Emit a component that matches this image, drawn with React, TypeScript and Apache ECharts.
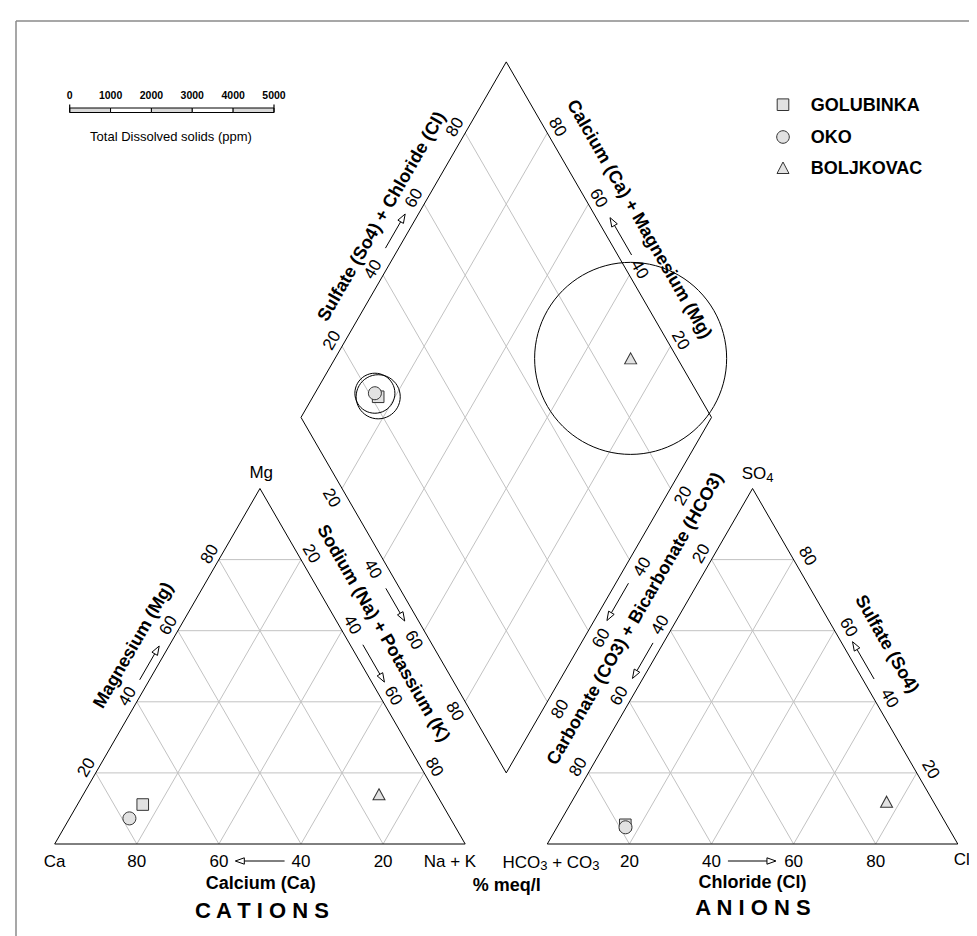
import React, { useEffect, useRef } from 'react';
import * as echarts from 'echarts';

// ---------------- data ----------------
const SAMPLES = ['GOLUBINKA', 'OKO', 'BOLJKOVAC'];
const SYMBOLS = ['rect', 'circle', 'triangle'];
// cations, % meq/l
const CA = [73.0, 78.2, 14.0];
const MG = [11.1, 7.2, 14.0];
const NAK = [15.9, 14.6, 72.0];
// anions, % meq/l
const HCO3 = [78.3, 78.6, 11.4];
const SO4 = [5.4, 4.7, 11.9];
const CL = [16.3, 16.7, 76.7];
// total dissolved solids, ppm
const TDS = [1080, 980, 4700];
const TICKS = [20, 40, 60, 80];
const TDS_TICKS = [0, 1000, 2000, 3000, 4000, 5000];

// ---------------- layout ----------------
type P = [number, number];
const W = 977, H = 936;
const X0 = 46.7, Y0 = 836, L = 410.5; // pixel position of Ca vertex, side length in px
const h = Math.sqrt(3) / 2;
const GAP = 0.2;
const FONT = "'Liberation Sans', Arial, Helvetica, sans-serif";

const add = (a: P, b: P): P => [a[0] + b[0], a[1] + b[1]];
const sub = (a: P, b: P): P => [a[0] - b[0], a[1] - b[1]];
const mul = (a: P, k: number): P => [a[0] * k, a[1] * k];
const px = (p: P, dx: number, dy: number): P => [p[0] + dx / L, p[1] - dy / L];

const CA_V: P = [0, 0], NA_V: P = [1, 0], MG_V: P = [0.5, h];
const HC_V: P = [1 + GAP, 0], CL_V: P = [2 + GAP, 0], SO_V: P = [1.5 + GAP, h];
const DB: P = [1 + GAP / 2, GAP * h];
const DL: P = [0.5 + GAP / 2, (1 + GAP) * h];
const DR: P = [1.5 + GAP / 2, (1 + GAP) * h];
const DT: P = [1 + GAP / 2, (2 + GAP) * h];
const E1: P = [0.5, h], E2: P = [-0.5, h];

const catPt = (i: number): P => {
  const t = CA[i] + MG[i] + NAK[i];
  const mg = MG[i] / t, na = NAK[i] / t;
  return [na + mg / 2, mg * h];
};
const anPt = (i: number): P => {
  const t = HCO3[i] + SO4[i] + CL[i];
  const so = SO4[i] / t, cl = CL[i] / t;
  return [1 + GAP + cl + so / 2, so * h];
};
const diaPt = (i: number): P => {
  const tc = CA[i] + MG[i] + NAK[i];
  const ta = HCO3[i] + SO4[i] + CL[i];
  const C = (CA[i] + MG[i]) / tc;
  const S = (SO4[i] + CL[i]) / ta;
  return add(DB, add(mul(E1, S), mul(E2, C)));
};

// ---------------- segments ----------------
const gridSegs: number[][] = [];
const outlineSegs: number[][] = [];
const seg = (arr: number[][], a: P, b: P) => arr.push([a[0], a[1], b[0], b[1]]);

[0, 1 + GAP].forEach((ox) => {
  const o: P = [ox, 0];
  TICKS.forEach((k) => {
    const f = k / 100;
    seg(gridSegs, add(o, [f / 2, f * h]), add(o, [1 - f / 2, f * h]));
    seg(gridSegs, add(o, [f, 0]), add(o, [f + (1 - f) / 2, (1 - f) * h]));
    seg(gridSegs, add(o, [1 - f, 0]), add(o, [(1 - f) / 2, (1 - f) * h]));
  });
});
TICKS.forEach((k) => {
  const f = k / 100;
  const a = add(DB, mul(E1, f));
  seg(gridSegs, a, add(a, E2));
  const b = add(DB, mul(E2, f));
  seg(gridSegs, b, add(b, E1));
});
seg(outlineSegs, CA_V, NA_V); seg(outlineSegs, NA_V, MG_V); seg(outlineSegs, MG_V, CA_V);
seg(outlineSegs, HC_V, CL_V); seg(outlineSegs, CL_V, SO_V); seg(outlineSegs, SO_V, HC_V);
seg(outlineSegs, DB, DR); seg(outlineSegs, DR, DT); seg(outlineSegs, DT, DL); seg(outlineSegs, DL, DB);

// ---------------- edges: ticks, arrows ----------------
interface Edge { s: P; e: P; n: P; rot: number; tOff: number; tAlong: number; aOff: number; aFrom: number; aTo: number; }
const EDGES: Record<string, Edge> = {
  cL: { s: CA_V, e: MG_V, n: [-h, 0.5], rot: 60, tOff: 11, tAlong: 0, aOff: 8.5, aFrom: 0.45, aTo: 0.545 },
  cR: { s: MG_V, e: NA_V, n: [h, 0.5], rot: -60, tOff: 12, tAlong: 0, aOff: 11, aFrom: 0.455, aTo: 0.56 },
  cB: { s: NA_V, e: CA_V, n: [0, -1], rot: 0, tOff: 17, tAlong: 0, aOff: 17, aFrom: 0.44, aTo: 0.56 },
  aL: { s: SO_V, e: HC_V, n: [-h, 0.5], rot: 60, tOff: 12, tAlong: 0, aOff: 9, aFrom: 0.447, aTo: 0.547 },
  aR: { s: CL_V, e: SO_V, n: [h, 0.5], rot: -60, tOff: 14, tAlong: -4, aOff: 10, aFrom: 0.45, aTo: 0.555 },
  aB: { s: HC_V, e: CL_V, n: [0, -1], rot: 0, tOff: 17, tAlong: 0, aOff: 17, aFrom: 0.44, aTo: 0.557 },
  dUL: { s: DL, e: DT, n: [-h, 0.5], rot: 60, tOff: 12, tAlong: 0, aOff: 11.5, aFrom: 0.46, aTo: 0.556 },
  dUR: { s: DR, e: DT, n: [h, 0.5], rot: -60, tOff: 12, tAlong: 0, aOff: 12, aFrom: 0.44, aTo: 0.545 },
  dLL: { s: DL, e: DB, n: [-h, -0.5], rot: -60, tOff: 13.5, tAlong: 3, aOff: 12, aFrom: 0.464, aTo: 0.556 },
  dLR: { s: DR, e: DB, n: [h, -0.5], rot: 60, tOff: 14.5, tAlong: 0, aOff: 11, aFrom: 0.451, aTo: 0.556 },
};
const onEdge = (ed: Edge, f: number, off: number, along = 0): P => {
  const d = sub(ed.e, ed.s);
  return add(add(ed.s, mul(d, f + along / L)), mul(ed.n, off / L));
};

interface TextItem { p: P; text: string; rot: number; size: number; bold: boolean; rich?: any; }
const texts: TextItem[] = [];
const arrows: number[][] = [];
Object.keys(EDGES).forEach((key) => {
  const ed = EDGES[key];
  TICKS.forEach((k) => {
    texts.push({ p: onEdge(ed, k / 100, ed.tOff, ed.tAlong), text: String(k), rot: ed.rot, size: 17, bold: false });
  });
  const a = onEdge(ed, ed.aFrom, ed.aOff);
  const b = onEdge(ed, ed.aTo, ed.aOff);
  arrows.push([a[0], a[1], b[0], b[1]]);
});

const TITLES: { edge: string; f: number; off: number; text: string }[] = [
  { edge: 'cL', f: 0.515, off: 31.7, text: 'Magnesium (Mg)' },
  { edge: 'cR', f: 0.456, off: 35, text: 'Sodium (Na) + Potassium (K)' },
  { edge: 'cB', f: 0.498, off: 39, text: 'Calcium (Ca)' },
  { edge: 'aR', f: 0.508, off: 39, text: 'Sulfate (So4)' },
  { edge: 'aB', f: 0.5, off: 38, text: 'Chloride (Cl)' },
  { edge: 'dUL', f: 0.522, off: 31, text: 'Sulfate (So4) + Chloride (Cl)' },
  { edge: 'dUR', f: 0.506, off: 37, text: 'Calcium (Ca) + Magnesium (Mg)' },
  { edge: 'dLR', f: 0.518, off: 34, text: 'Carbonate (CO3) + Bicarbonate (HCO3)' },
];
TITLES.forEach((t) => {
  const ed = EDGES[t.edge];
  texts.push({ p: onEdge(ed, t.f, t.off), text: t.text, rot: ed.rot, size: 18, bold: true });
});

const subRich = {
  n: { fontSize: 17, fontFamily: FONT, lineHeight: 20, fill: '#000' },
  s: { fontSize: 13, fontFamily: FONT, lineHeight: 10, verticalAlign: 'bottom', fill: '#000' },
};
texts.push({ p: px(CA_V, 0, 17), text: 'Ca', rot: 0, size: 17, bold: false });
texts.push({ p: px(NA_V, -15.3, 17), text: 'Na + K', rot: 0, size: 17, bold: false });
texts.push({ p: px(MG_V, 1.3, -15.5), text: 'Mg', rot: 0, size: 17, bold: false });
texts.push({ p: px(HC_V, 3.7, 18), text: '{n|HCO}{s|3}{n| + CO}{s|3}', rot: 0, size: 17, bold: false, rich: subRich });
texts.push({ p: px(CL_V, 4, 15), text: 'Cl', rot: 0, size: 17, bold: false });
texts.push({ p: px(SO_V, 5, -14.5), text: '{n|SO}{s|4}', rot: 0, size: 17, bold: false, rich: subRich });
texts.push({ p: px(DB, 0.5, 112), text: '% meq/l', rot: 0, size: 18, bold: true });
texts.push({ p: px([0.5, 0], 2, 66), text: 'C A T I O N S', rot: 0, size: 22, bold: true });
texts.push({ p: px([1.5 + GAP, 0], 0.4, 63), text: 'A N I O N S', rot: 0, size: 22, bold: true });

// ---------------- scale bar / legend (px) ----------------
const BAR_X = 61.7, BAR_Y = 100, BAR_W = 204.3, BAR_H = 4.5;
const TDS_MAX = TDS_TICKS[TDS_TICKS.length - 1];
const LEG_X = 775, LEG_TX = 802.7, LEG_Y = [96.7, 129, 160];

export default function App() {
  const ref = useRef<HTMLDivElement>(null);
  useEffect(() => {
    if (!ref.current) return;
    const chart = echarts.init(ref.current, undefined, { renderer: 'svg' });

    const graphic: any[] = [];
    graphic.push({ type: 'line', silent: true, shape: { x1: 8, y1: 13, x2: W, y2: 13 }, style: { stroke: '#8a8a8a', lineWidth: 1.5 } });
    graphic.push({ type: 'line', silent: true, shape: { x1: 8, y1: 13, x2: 8, y2: H }, style: { stroke: '#8a8a8a', lineWidth: 1.5 } });
    TDS_TICKS.slice(0, -1).forEach((t, i) => {
      const step = TDS_TICKS[i + 1] - t;
      graphic.push({
        type: 'rect', silent: true,
        shape: { x: BAR_X + (BAR_W * t) / TDS_MAX, y: BAR_Y, width: (BAR_W * step) / TDS_MAX, height: BAR_H },
        style: { fill: i % 2 === 0 ? '#d9d9d9' : '#ffffff', stroke: '#000', lineWidth: 1 },
      });
    });
    [0, BAR_W].forEach((dx) => {
      graphic.push({ type: 'line', silent: true, shape: { x1: BAR_X + dx, y1: BAR_Y - 3.5, x2: BAR_X + dx, y2: BAR_Y + BAR_H }, style: { stroke: '#000', lineWidth: 1.2 } });
    });
    TDS_TICKS.forEach((t) => {
      graphic.push({
        type: 'text', silent: true,
        style: { text: String(t), x: BAR_X + (BAR_W * t) / TDS_MAX, y: 87.3, fontSize: 10.5, fontWeight: 'bold', fontFamily: FONT, fill: '#000', align: 'center', verticalAlign: 'middle' },
      });
    });
    graphic.push({
      type: 'text', silent: true,
      style: { text: 'Total Dissolved solids (ppm)', x: 163, y: 128.3, fontSize: 13, fontFamily: FONT, fill: '#000', align: 'center', verticalAlign: 'middle' },
    });
    // legend
    const legStyle = { fill: '#e2e2e2', stroke: '#333', lineWidth: 1 };
    graphic.push({ type: 'rect', silent: true, shape: { x: LEG_X - 5.8, y: LEG_Y[0] - 5.8, width: 11.6, height: 11.6 }, style: legStyle });
    graphic.push({ type: 'circle', silent: true, shape: { cx: LEG_X, cy: LEG_Y[1], r: 6.3 }, style: legStyle });
    graphic.push({ type: 'polygon', silent: true, shape: { points: [[LEG_X, LEG_Y[2] - 6], [LEG_X + 6, LEG_Y[2] + 5.5], [LEG_X - 6, LEG_Y[2] + 5.5]] }, style: legStyle });
    SAMPLES.forEach((s, i) => {
      graphic.push({
        type: 'text', silent: true,
        style: { text: s, x: LEG_TX, y: LEG_Y[i], fontSize: 18, fontWeight: 'bold', fontFamily: FONT, fill: '#000', align: 'left', verticalAlign: 'middle' },
      });
    });

    const segRender = (color: string, width: number) => (params: any, api: any) => {
      const a = api.coord([api.value(0), api.value(1)]);
      const b = api.coord([api.value(2), api.value(3)]);
      return { type: 'line', shape: { x1: a[0], y1: a[1], x2: b[0], y2: b[1] }, style: { stroke: color, lineWidth: width } };
    };

    const series: any[] = [
      { type: 'custom', name: 'grid', silent: true, z: 1, data: gridSegs, renderItem: segRender('#c2c2c2', 1) },
      { type: 'custom', name: 'outline', silent: true, z: 2, data: outlineSegs, renderItem: segRender('#000', 1) },
      {
        type: 'custom', name: 'tds', silent: true, z: 3,
        data: SAMPLES.map((_, i) => [...diaPt(i), TDS[i]]),
        renderItem: (params: any, api: any) => {
          const c = api.coord([api.value(0), api.value(1)]);
          const r = (api.value(2) / TDS_MAX) * BAR_W / 2;
          return { type: 'circle', shape: { cx: c[0], cy: c[1], r }, style: { fill: 'none', stroke: '#000', lineWidth: 1 } };
        },
      },
      {
        type: 'custom', name: 'texts', silent: true, z: 4,
        data: texts.map((t) => [t.p[0], t.p[1]]),
        renderItem: (params: any, api: any) => {
          const t = texts[params.dataIndex];
          const c = api.coord([api.value(0), api.value(1)]);
          const style: any = {
            text: t.text, fontSize: t.size, fontWeight: t.bold ? 'bold' : 'normal', fontFamily: FONT,
            fill: '#000', align: 'center', verticalAlign: 'middle',
          };
          if (t.rich) style.rich = t.rich;
          return { type: 'text', x: c[0], y: c[1], rotation: (t.rot * Math.PI) / 180, style };
        },
      },
      {
        type: 'custom', name: 'arrows', silent: true, z: 4,
        data: arrows,
        renderItem: (params: any, api: any) => {
          const a = api.coord([api.value(0), api.value(1)]);
          const b = api.coord([api.value(2), api.value(3)]);
          const dx = b[0] - a[0], dy = b[1] - a[1];
          const len = Math.sqrt(dx * dx + dy * dy);
          const ux = dx / len, uy = dy / len;
          const bx = b[0] - ux * 9, by = b[1] - uy * 9;
          const nx = -uy, ny = ux;
          return {
            type: 'group',
            children: [
              { type: 'line', shape: { x1: a[0], y1: a[1], x2: bx, y2: by }, style: { stroke: '#000', lineWidth: 1 } },
              {
                type: 'polygon',
                shape: { points: [[b[0], b[1]], [bx + nx * 3.2, by + ny * 3.2], [bx - nx * 3.2, by - ny * 3.2]] },
                style: { fill: '#fff', stroke: '#000', lineWidth: 1 },
              },
            ],
          };
        },
      },
    ];
    SAMPLES.forEach((s, i) => {
      series.push({
        type: 'scatter', name: s, z: 5, symbol: SYMBOLS[i],
        symbolSize: SYMBOLS[i] === 'rect' ? 11.6 : SYMBOLS[i] === 'circle' ? 13 : [12, 11],
        itemStyle: { color: '#e2e2e2', borderColor: '#333', borderWidth: 1, opacity: 1 },
        data: [catPt(i), anPt(i), diaPt(i)],
      });
    });

    chart.setOption({
      animation: false,
      backgroundColor: '#ffffff',
      grid: { left: 0, top: 0, width: W, height: H, containLabel: false },
      xAxis: { type: 'value', min: -X0 / L, max: (W - X0) / L, show: false, splitLine: { show: false } },
      yAxis: { type: 'value', min: (Y0 - H) / L, max: Y0 / L, show: false, splitLine: { show: false } },
      tooltip: { show: false },
      graphic,
      series,
    });
    return () => chart.dispose();
  }, []);
  return <div ref={ref} style={{ position: 'fixed', left: 0, top: 0, width: W, height: H, background: '#fff' }} />;
}
